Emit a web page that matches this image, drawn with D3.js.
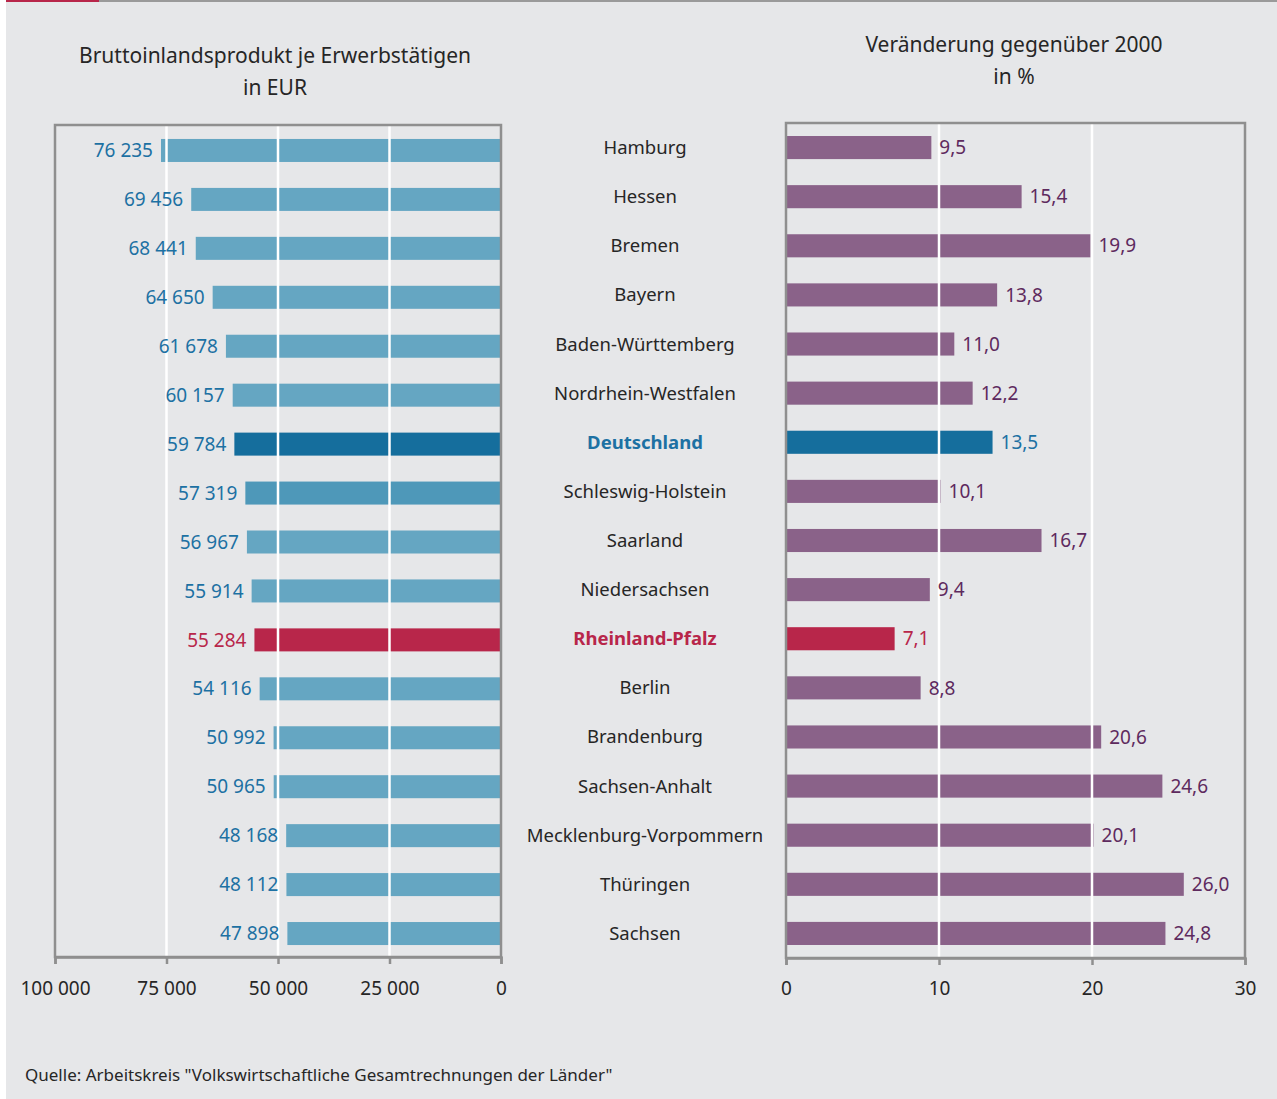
<!DOCTYPE html>
<html>
<head>
<meta charset="utf-8">
<script src="https://cdn.jsdelivr.net/npm/d3@7"></script>
<style>
  html, body { margin: 0; padding: 0; background: #ffffff; }
  svg { display: block; font-family: "Noto Sans", "Open Sans", sans-serif; }
</style>
</head>
<body>
<svg id="chart" width="1277" height="1099"></svg>
<script>
// Länder, sorted by GDP per person in employment
const laender = [
  "Hamburg", "Hessen", "Bremen", "Bayern", "Baden-Württemberg",
  "Nordrhein-Westfalen", "Deutschland", "Schleswig-Holstein", "Saarland",
  "Niedersachsen", "Rheinland-Pfalz", "Berlin", "Brandenburg",
  "Sachsen-Anhalt", "Mecklenburg-Vorpommern", "Thüringen", "Sachsen"
];
// GDP per person in employment, EUR
const bipJeErwerbstaetigen = [
  76235, 69456, 68441, 64650, 61678, 60157, 59784, 57319, 56967,
  55914, 55284, 54116, 50992, 50965, 48168, 48112, 47898
];
// change compared with 2000, percent
const veraenderung2000 = [
  9.5, 15.4, 19.9, 13.8, 11.0, 12.2, 13.5, 10.1, 16.7,
  9.4, 7.1, 8.8, 20.6, 24.6, 20.1, 26.0, 24.8
];
const ticksEur = [100000, 75000, 50000, 25000, 0];
const ticksPct = [0, 10, 20, 30];

const svg = d3.select("#chart");
const W = 1277, H = 1099;

const C = {
  page: "#e6e7e9",
  frame: "#8f8f8f",
  grid: "#ffffff",
  blue: "#65a6c2",
  blueMid: "#4e98b9",
  blueDark: "#156e9d",
  blueText: "#1d71a3",
  purple: "#8a6289",
  purpleText: "#5e2a5e",
  red: "#b8264a",
  text: "#262626"
};

// page background and top rule
svg.append("rect").attr("x", 6).attr("y", 0).attr("width", W - 6).attr("height", H).attr("fill", C.page);
svg.append("rect").attr("x", 6).attr("y", 0).attr("width", W - 6).attr("height", 2).attr("fill", "#9a9a9a");
svg.append("rect").attr("x", 6).attr("y", 0).attr("width", 93).attr("height", 2).attr("fill", C.red);

// separate row bands for the two panels (their frames differ slightly)
const yL = d3.scaleBand().domain(laender).range([126, 958])
  .paddingInner(0.53).paddingOuter(0.265);
const yR = d3.scaleBand().domain(laender).range([123, 958])
  .paddingInner(0.53).paddingOuter(0.265);

const xL = d3.scaleLinear().domain([0, 100000]).range([501, 55]);
const xR = d3.scaleLinear().domain([0, 30]).range([786, 1245]);

const fmtEur = v => d3.format(",")(v).replace(/,/g, " ");
const fmtPct = v => d3.format(".1f")(v).replace(".", ",");

function barColor(name) {
  if (name === "Deutschland") return C.blueDark;
  if (name === "Rheinland-Pfalz") return C.red;
  if (name === "Schleswig-Holstein") return C.blueMid;
  return C.blue;
}
function labelColorLeft(name) {
  return name === "Rheinland-Pfalz" ? C.red : C.blueText;
}
function barColorRight(name) {
  if (name === "Deutschland") return C.blueDark;
  if (name === "Rheinland-Pfalz") return C.red;
  return C.purple;
}
function labelColorRight(name) {
  if (name === "Deutschland") return C.blueText;
  if (name === "Rheinland-Pfalz") return C.red;
  return C.purpleText;
}

// ---------- left panel: GDP per person in employment ----------
const left = svg.append("g");
left.selectAll("rect.bar").data(laender).join("rect")
  .attr("class", "bar")
  .attr("x", (d, i) => xL(bipJeErwerbstaetigen[i]))
  .attr("y", d => yL(d))
  .attr("width", (d, i) => xL(0) - xL(bipJeErwerbstaetigen[i]))
  .attr("height", yL.bandwidth())
  .attr("fill", d => barColor(d));

left.selectAll("line.grid").data([75000, 50000, 25000]).join("line")
  .attr("x1", d => xL(d)).attr("x2", d => xL(d))
  .attr("y1", 126).attr("y2", 956)
  .attr("stroke", C.grid).attr("stroke-width", 2.5);

left.selectAll("text.val").data(laender).join("text")
  .attr("x", (d, i) => xL(bipJeErwerbstaetigen[i]) - 8)
  .attr("y", d => yL(d) + yL.bandwidth() / 2)
  .attr("dy", "0.35em")
  .attr("text-anchor", "end")
  .attr("font-size", 19)
  .attr("fill", d => labelColorLeft(d))
  .text((d, i) => fmtEur(bipJeErwerbstaetigen[i]));

left.append("rect").attr("x", 55).attr("y", 125).attr("width", 446).attr("height", 832)
  .attr("fill", "none").attr("stroke", C.frame).attr("stroke-width", 2.5);

const axL = left.append("g").attr("transform", "translate(0,957)")
  .call(d3.axisBottom(xL).tickValues(ticksEur).tickFormat(fmtEur).tickSize(7).tickPadding(18));
axL.select(".domain").attr("stroke", C.frame).attr("stroke-width", 2.5);
axL.selectAll(".tick line").attr("stroke", C.frame).attr("stroke-width", 2.5);
axL.selectAll(".tick text").attr("font-size", 19).attr("fill", C.text)
  .attr("font-family", "'Noto Sans', 'Open Sans', sans-serif");

svg.append("text").attr("x", 275).attr("y", 63).attr("text-anchor", "middle")
  .attr("font-size", 21).attr("fill", C.text).text("Bruttoinlandsprodukt je Erwerbstätigen");
svg.append("text").attr("x", 275).attr("y", 95).attr("text-anchor", "middle")
  .attr("font-size", 21).attr("fill", C.text).text("in EUR");

// ---------- category labels ----------
svg.append("g").selectAll("text").data(laender).join("text")
  .attr("x", 645)
  .attr("y", d => yR(d) + yR.bandwidth() / 2)
  .attr("dy", "0.35em")
  .attr("text-anchor", "middle")
  .attr("font-size", 18.5)
  .attr("font-weight", d => (d === "Deutschland" || d === "Rheinland-Pfalz") ? 700 : 400)
  .attr("fill", d => d === "Deutschland" ? C.blueText : d === "Rheinland-Pfalz" ? C.red : C.text)
  .text(d => d);

// ---------- right panel: change since 2000 ----------
const right = svg.append("g");
right.selectAll("rect.bar").data(laender).join("rect")
  .attr("class", "bar")
  .attr("x", xR(0))
  .attr("y", d => yR(d))
  .attr("width", (d, i) => xR(veraenderung2000[i]) - xR(0))
  .attr("height", yR.bandwidth())
  .attr("fill", d => barColorRight(d));

right.selectAll("line.grid").data([10, 20]).join("line")
  .attr("x1", d => xR(d)).attr("x2", d => xR(d))
  .attr("y1", 124).attr("y2", 957)
  .attr("stroke", C.grid).attr("stroke-width", 2.5);

right.selectAll("text.val").data(laender).join("text")
  .attr("x", (d, i) => xR(veraenderung2000[i]) + 8)
  .attr("y", d => yR(d) + yR.bandwidth() / 2)
  .attr("dy", "0.35em")
  .attr("text-anchor", "start")
  .attr("font-size", 19)
  .attr("fill", d => labelColorRight(d))
  .text((d, i) => fmtPct(veraenderung2000[i]));

right.append("rect").attr("x", 786).attr("y", 123).attr("width", 459).attr("height", 835)
  .attr("fill", "none").attr("stroke", C.frame).attr("stroke-width", 2.5);

const axR = right.append("g").attr("transform", "translate(0,958)")
  .call(d3.axisBottom(xR).tickValues(ticksPct).tickFormat(d => d).tickSize(7).tickPadding(17));
axR.select(".domain").attr("stroke", C.frame).attr("stroke-width", 2.5);
axR.selectAll(".tick line").attr("stroke", C.frame).attr("stroke-width", 2.5);
axR.selectAll(".tick text").attr("font-size", 19).attr("fill", C.text)
  .attr("font-family", "'Noto Sans', 'Open Sans', sans-serif");

svg.append("text").attr("x", 1014).attr("y", 52).attr("text-anchor", "middle")
  .attr("font-size", 21).attr("fill", C.text).text("Veränderung gegenüber 2000");
svg.append("text").attr("x", 1014).attr("y", 84).attr("text-anchor", "middle")
  .attr("font-size", 21).attr("fill", C.text).text("in %");

// ---------- source ----------
svg.append("text").attr("x", 25).attr("y", 1081)
  .attr("font-size", 17).attr("fill", C.text)
  .text("Quelle: Arbeitskreis \"Volkswirtschaftliche Gesamtrechnungen der Länder\"");
</script>
</body>
</html>
